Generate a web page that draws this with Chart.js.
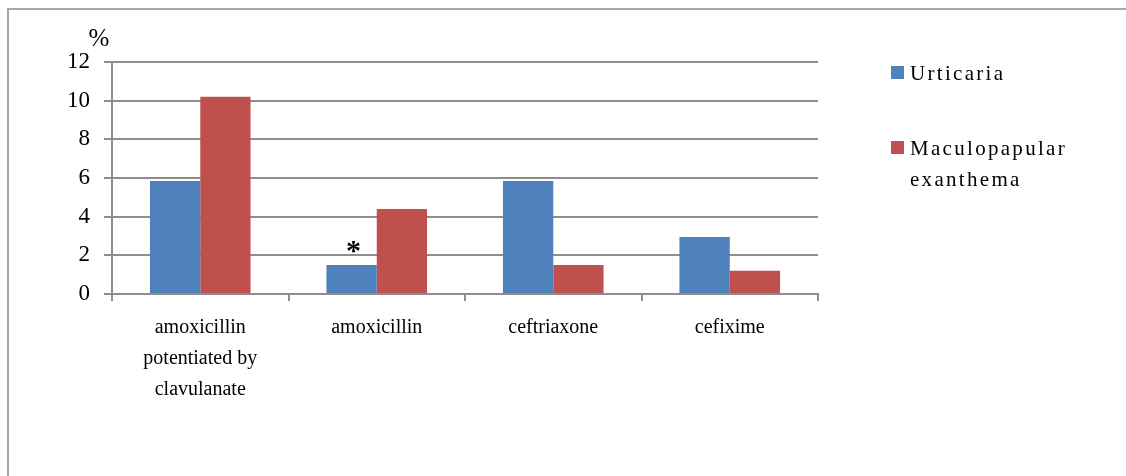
<!DOCTYPE html>
<html>
<head>
<meta charset="utf-8">
<script src="https://cdn.jsdelivr.net/npm/chart.js@4/dist/chart.umd.min.js"></script>
<style>
  html, body { margin: 0; padding: 0; background: #fff; overflow: hidden; }
  #wrap { position: relative; width: 1126px; height: 476px; }
  #frame { position: absolute; left: 7px; top: 8px; width: 1140px; height: 520px;
           border-left: 2px solid #a6a6a6; border-top: 2px solid #a6a6a6; }
  canvas { position: absolute; left: 0; top: 0; }
</style>
</head>
<body>
<div id="wrap">
  <div id="frame"></div>
  <canvas id="c" width="1126" height="476"></canvas>
</div>
<script>
// Drug categories (multi-line label for the first one)
const categories = [['amoxicillin', 'potentiated by', 'clavulanate'], 'amoxicillin', 'ceftriaxone', 'cefixime'];

// Series names
const seriesNames = ['Urticaria', 'Maculopapular exanthema'];

// Percentages per drug
const urticaria = [5.85, 1.5, 5.85, 2.95];
const maculopapular = [10.2, 4.4, 1.5, 1.2];

// Significance marks drawn above the urticaria bars
const urticariaMarks = ['', '*', '', ''];

// Value axis ticks and unit
const yTicks = [0, 2, 4, 6, 8, 10, 12];
const unitLabel = '%';

const GRID = '#8e8e8e';
const SERIF = '"Liberation Serif", "Times New Roman", serif';

// Draws the unit label, the significance marks and the legend at the right
const decorations = {
  id: 'decorations',
  afterDraw(chart) {
    const ctx = chart.ctx;
    const area = chart.chartArea;
    const y = chart.scales.y;
    ctx.save();

    // unit above the value axis
    ctx.fillStyle = '#000';
    ctx.font = '25px ' + SERIF;
    ctx.textAlign = 'center';
    ctx.textBaseline = 'alphabetic';
    ctx.fillText(unitLabel, y.right - 13, area.top - 16);

    // marks above bars
    const meta = chart.getDatasetMeta(0);
    ctx.font = 'bold 30px ' + SERIF;
    urticariaMarks.forEach((m, i) => {
      if (!m) return;
      const bar = meta.data[i];
      ctx.fillText(m, bar.x + 2, bar.y - 5);
    });

    // legend
    const boxX = area.right + 73;
    const textX = boxX + 19;
    const rows = [area.top + 18, area.top + 93];
    ctx.textAlign = 'left';
    ctx.font = '21px ' + SERIF;
    if ('letterSpacing' in ctx) ctx.letterSpacing = '2.3px';
    chart.data.datasets.forEach((ds, i) => {
      const base = rows[i];
      ctx.fillStyle = ds.backgroundColor;
      ctx.fillRect(boxX, base - 14, 13, 13);
      ctx.fillStyle = '#000';
      // wrap the name into lines no wider than the legend column
      const words = ds.label.split(' ');
      const lines = [];
      let cur = '';
      words.forEach(w => {
        const t = cur ? cur + ' ' + w : w;
        if (cur && ctx.measureText(t).width > 190) { lines.push(cur); cur = w; }
        else cur = t;
      });
      if (cur) lines.push(cur);
      lines.forEach((ln, k) => ctx.fillText(ln, textX, base + k * 31));
    });
    ctx.restore();
  }
};

new Chart(document.getElementById('c'), {
  type: 'bar',
  data: {
    labels: categories,
    datasets: [
      { label: seriesNames[0], data: urticaria, backgroundColor: '#4f81bd' },
      { label: seriesNames[1], data: maculopapular, backgroundColor: '#c0504d' }
    ]
  },
  options: {
    responsive: false,
    animation: false,
    events: [],
    layout: { padding: { left: 0, right: 308, top: 62, bottom: 62 } },
    datasets: { bar: { categoryPercentage: 0.57, barPercentage: 1.0 } },
    plugins: { legend: { display: false }, tooltip: { enabled: false }, title: { display: false } },
    scales: {
      x: {
        grid: { display: true, drawOnChartArea: false, drawTicks: true, tickLength: 7, color: GRID, lineWidth: 2, offset: true },
        border: { display: true, color: GRID, width: 2 },
        ticks: { color: '#000', font: { family: SERIF, size: 20, lineHeight: 1.55 }, padding: 11, maxRotation: 0, autoSkip: false },
        afterFit(scale) { scale.height = 120; }
      },
      y: {
        min: yTicks[0],
        max: yTicks[yTicks.length - 1],
        ticks: { stepSize: yTicks[1] - yTicks[0], color: '#000', font: { family: SERIF, size: 23 }, padding: 14 },
        grid: { color: GRID, lineWidth: 2, tickLength: 8 },
        border: { display: true, color: GRID, width: 2 },
        afterFit(scale) { scale.width = 112; }
      }
    }
  },
  plugins: [decorations]
});
</script>
</body>
</html>
